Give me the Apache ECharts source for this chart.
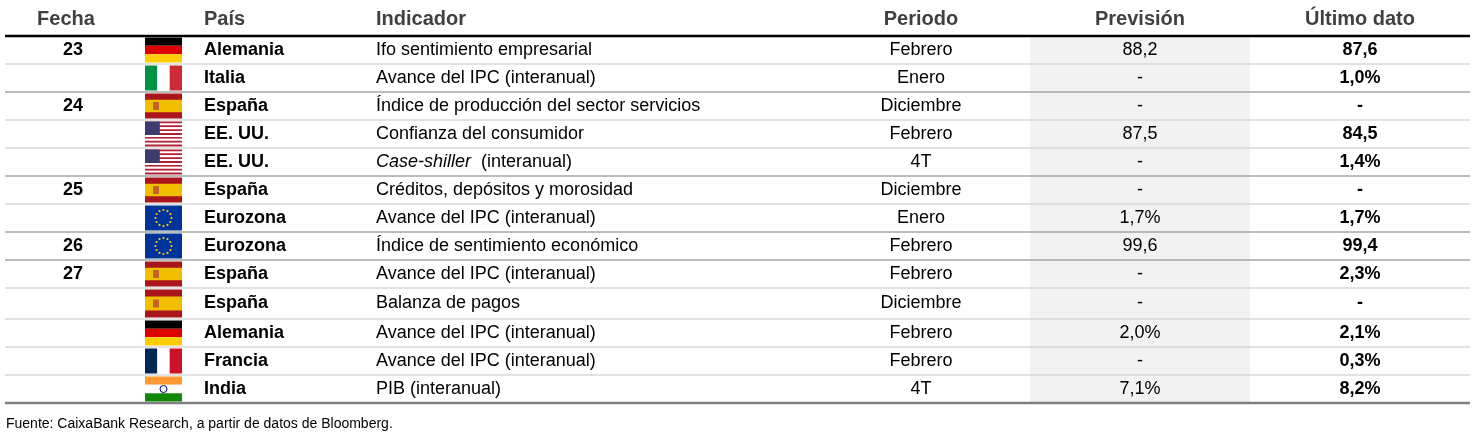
<!DOCTYPE html>
<html><head><meta charset="utf-8">
<script src="https://cdn.jsdelivr.net/npm/echarts@6/dist/echarts.min.js"></script>
<style>html,body{margin:0;padding:0;background:#fff}#main{width:1475px;height:443px}</style>
</head><body><div id="main"></div>
<script>
var chart = echarts.init(document.getElementById('main'));

var headers = ['Fecha', 'País', 'Indicador', 'Periodo', 'Previsión', 'Último dato'];
var fechas = ['23', '', '24', '', '', '25', '', '26', '27', '', '', '', ''];
var flags = ['de', 'it', 'es', 'us', 'us', 'es', 'eu', 'eu', 'es', 'es', 'de', 'fr', 'in'];
var paises = ['Alemania', 'Italia', 'España', 'EE. UU.', 'EE. UU.', 'España', 'Eurozona', 'Eurozona', 'España', 'España', 'Alemania', 'Francia', 'India'];
var indicadores = ['Ifo sentimiento empresarial', 'Avance del IPC (interanual)', 'Índice de producción del sector servicios',
  'Confianza del consumidor', '{i|Case-shiller}  (interanual)', 'Créditos, depósitos y morosidad', 'Avance del IPC (interanual)',
  'Índice de sentimiento económico', 'Avance del IPC (interanual)', 'Balanza de pagos', 'Avance del IPC (interanual)',
  'Avance del IPC (interanual)', 'PIB (interanual)'];
var periodos = ['Febrero', 'Enero', 'Diciembre', 'Febrero', '4T', 'Diciembre', 'Enero', 'Febrero', 'Febrero', 'Diciembre', 'Febrero', 'Febrero', '4T'];
var prevision = ['88,2', '-', '-', '87,5', '-', '-', '1,7%', '99,6', '-', '-', '2,0%', '-', '7,1%'];
var ultimo = ['87,6', '1,0%', '-', '84,5', '1,4%', '-', '1,7%', '99,4', '2,3%', '-', '2,1%', '0,3%', '8,2%'];
var rowBounds = [36, 64, 92, 120, 148, 176, 204, 232, 260, 288, 319, 347, 375, 403];
var fuente = 'Fuente: CaixaBank Research, a partir de datos de Bloomberg.';

var F = 'Liberation Sans, Arial, sans-serif';
var g = [];
function txt(x, y, s, opt) {
  g.push({ type: 'text', x: x, y: y, style: Object.assign({
    text: s, fill: '#000', font: '18px ' + F, textAlign: 'left', textVerticalAlign: 'middle',
    rich: { i: { fontStyle: 'italic', fontSize: 18, fontFamily: F, fill: '#000' } }
  }, opt || {}) });
}
function rect(x, y, w, h, c) {
  g.push({ type: 'rect', shape: { x: x, y: y, width: w, height: h }, style: { fill: c } });
}
function line(y, c, w) {
  g.push({ type: 'line', shape: { x1: 5, y1: y, x2: 1470, y2: y }, style: { stroke: c, lineWidth: w } });
}
function flag(code, x, y, w, h) {
  if (code === 'de') { rect(x, y, w, h / 3, '#000'); rect(x, y + h / 3, w, h / 3, '#dd0000'); rect(x, y + 2 * h / 3, w, h / 3, '#ffce00'); }
  else if (code === 'it') { rect(x, y, w / 3, h, '#009246'); rect(x + w / 3, y, w / 3, h, '#fff'); rect(x + 2 * w / 3, y, w / 3, h, '#ce2b37'); }
  else if (code === 'fr') { rect(x, y, w / 3, h, '#002654'); rect(x + w / 3, y, w / 3, h, '#fff'); rect(x + 2 * w / 3, y, w / 3, h, '#ce1126'); }
  else if (code === 'es') { rect(x, y, w, h, '#aa151b'); rect(x, y + h / 4, w, h / 2, '#f1bf00'); rect(x + 8, y + h / 2 - 4, 6, 8, '#c0632b'); }
  else if (code === 'in') {
    rect(x, y, w, h / 3, '#ff9933'); rect(x, y + h / 3, w, h / 3, '#fff'); rect(x, y + 2 * h / 3, w, h / 3, '#138808');
    g.push({ type: 'circle', shape: { cx: x + w / 2, cy: y + h / 2, r: 3.5 }, style: { fill: 'none', stroke: '#000080', lineWidth: 1 } });
  }
  else if (code === 'us') {
    for (var k = 0; k < 13; k++) rect(x, y + k * h / 13, w, h / 13, k % 2 ? '#fff' : '#b22234');
    rect(x, y, w * 0.4, h * 7 / 13, '#3c3b6e');
  }
  else if (code === 'eu') {
    rect(x, y, w, h, '#003399');
    for (var s = 0; s < 12; s++) {
      var a = s * Math.PI / 6;
      g.push({ type: 'circle', shape: { cx: x + w / 2 + 8 * Math.cos(a), cy: y + h / 2 + 8 * Math.sin(a), r: 1.1 }, style: { fill: '#ffcc00' } });
    }
  }
}

rect(1030, 36, 220, 367, '#f2f2f2');
var hs = { font: 'bold 20px ' + F, fill: '#404040' };
txt(66, 19, headers[0], Object.assign({ textAlign: 'center' }, hs));
txt(204, 19, headers[1], hs);
txt(376, 19, headers[2], hs);
txt(921, 19, headers[3], Object.assign({ textAlign: 'center' }, hs));
txt(1140, 19, headers[4], Object.assign({ textAlign: 'center' }, hs));
txt(1360, 19, headers[5], Object.assign({ textAlign: 'center' }, hs));

for (var r = 0; r < paises.length; r++) {
  var y0 = rowBounds[r], y1 = rowBounds[r + 1], cy = (y0 + y1) / 2;
  if (r > 0) line(y0, fechas[r] ? '#a6a6a6' : '#d9d9d9', 1.5);
  flag(flags[r], 145, y0 + 1.5, 37, y1 - y0 - 3);
  txt(73, cy, fechas[r], { textAlign: 'center', font: 'bold 18px ' + F });
  txt(204, cy, paises[r], { font: 'bold 18px ' + F });
  txt(376, cy, indicadores[r]);
  txt(921, cy, periodos[r], { textAlign: 'center' });
  txt(1140, cy, prevision[r], { textAlign: 'center' });
  txt(1360, cy, ultimo[r], { textAlign: 'center', font: 'bold 18px ' + F });
}
line(36, '#000', 2.5);
line(403, '#808080', 2.5);
txt(6, 424, fuente, { font: '14px ' + F });

chart.setOption({ animation: false, graphic: { elements: g } });
</script></body></html>
